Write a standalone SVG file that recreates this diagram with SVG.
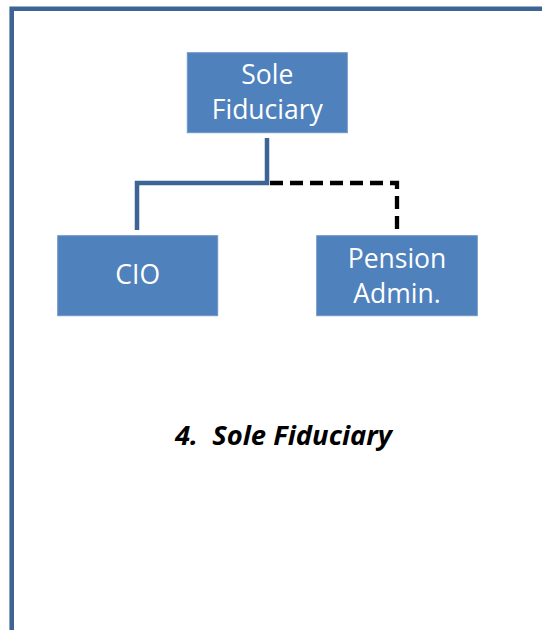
<svg xmlns="http://www.w3.org/2000/svg" width="542" height="630" viewBox="0 0 542 630">
<style>
.box{fill:#4F81BD;stroke:#6E96C8;stroke-width:1}
.lbl{font-family:"Open Sans","Liberation Sans",sans-serif;font-size:26.5px;fill:#FFFFFF;text-anchor:middle}
.solid{fill:none;stroke:#3E6496;stroke-width:4.5}
.dash{fill:none;stroke:#000000;stroke-width:4.3;stroke-dasharray:13,7}
</style>
<rect width="542" height="630" fill="#FFFFFF"/>
<path d="M11.7,640 V8.7 H560" fill="none" stroke="#3E6496" stroke-width="4.6"/>
<g id="connectors">
<path class="solid" d="M267,138 V183 H137 V230"/>
<path class="dash" d="M270,183 H397 V230"/>
</g>
<g id="sole-fiduciary">
<rect class="box" x="187.3" y="52.7" width="160" height="80"/>
<text class="lbl" x="267.3" y="84">Sole</text>
<text class="lbl" x="267.3" y="119">Fiduciary</text>
</g>
<g id="cio">
<rect class="box" x="57.7" y="235.7" width="160" height="80"/>
<text class="lbl" x="137.7" y="284.3">CIO</text>
</g>
<g id="pension-admin">
<rect class="box" x="316.7" y="235.7" width="160.6" height="80"/>
<text class="lbl" x="397" y="267.7">Pension</text>
<text class="lbl" x="397" y="302.7">Admin.</text>
</g>
<text x="175" y="445" font-family="Open Sans,Liberation Sans,sans-serif" font-size="27.4" font-weight="bold" font-style="italic" fill="#000000" xml:space="preserve">4.  Sole Fiduciary</text>
</svg>
